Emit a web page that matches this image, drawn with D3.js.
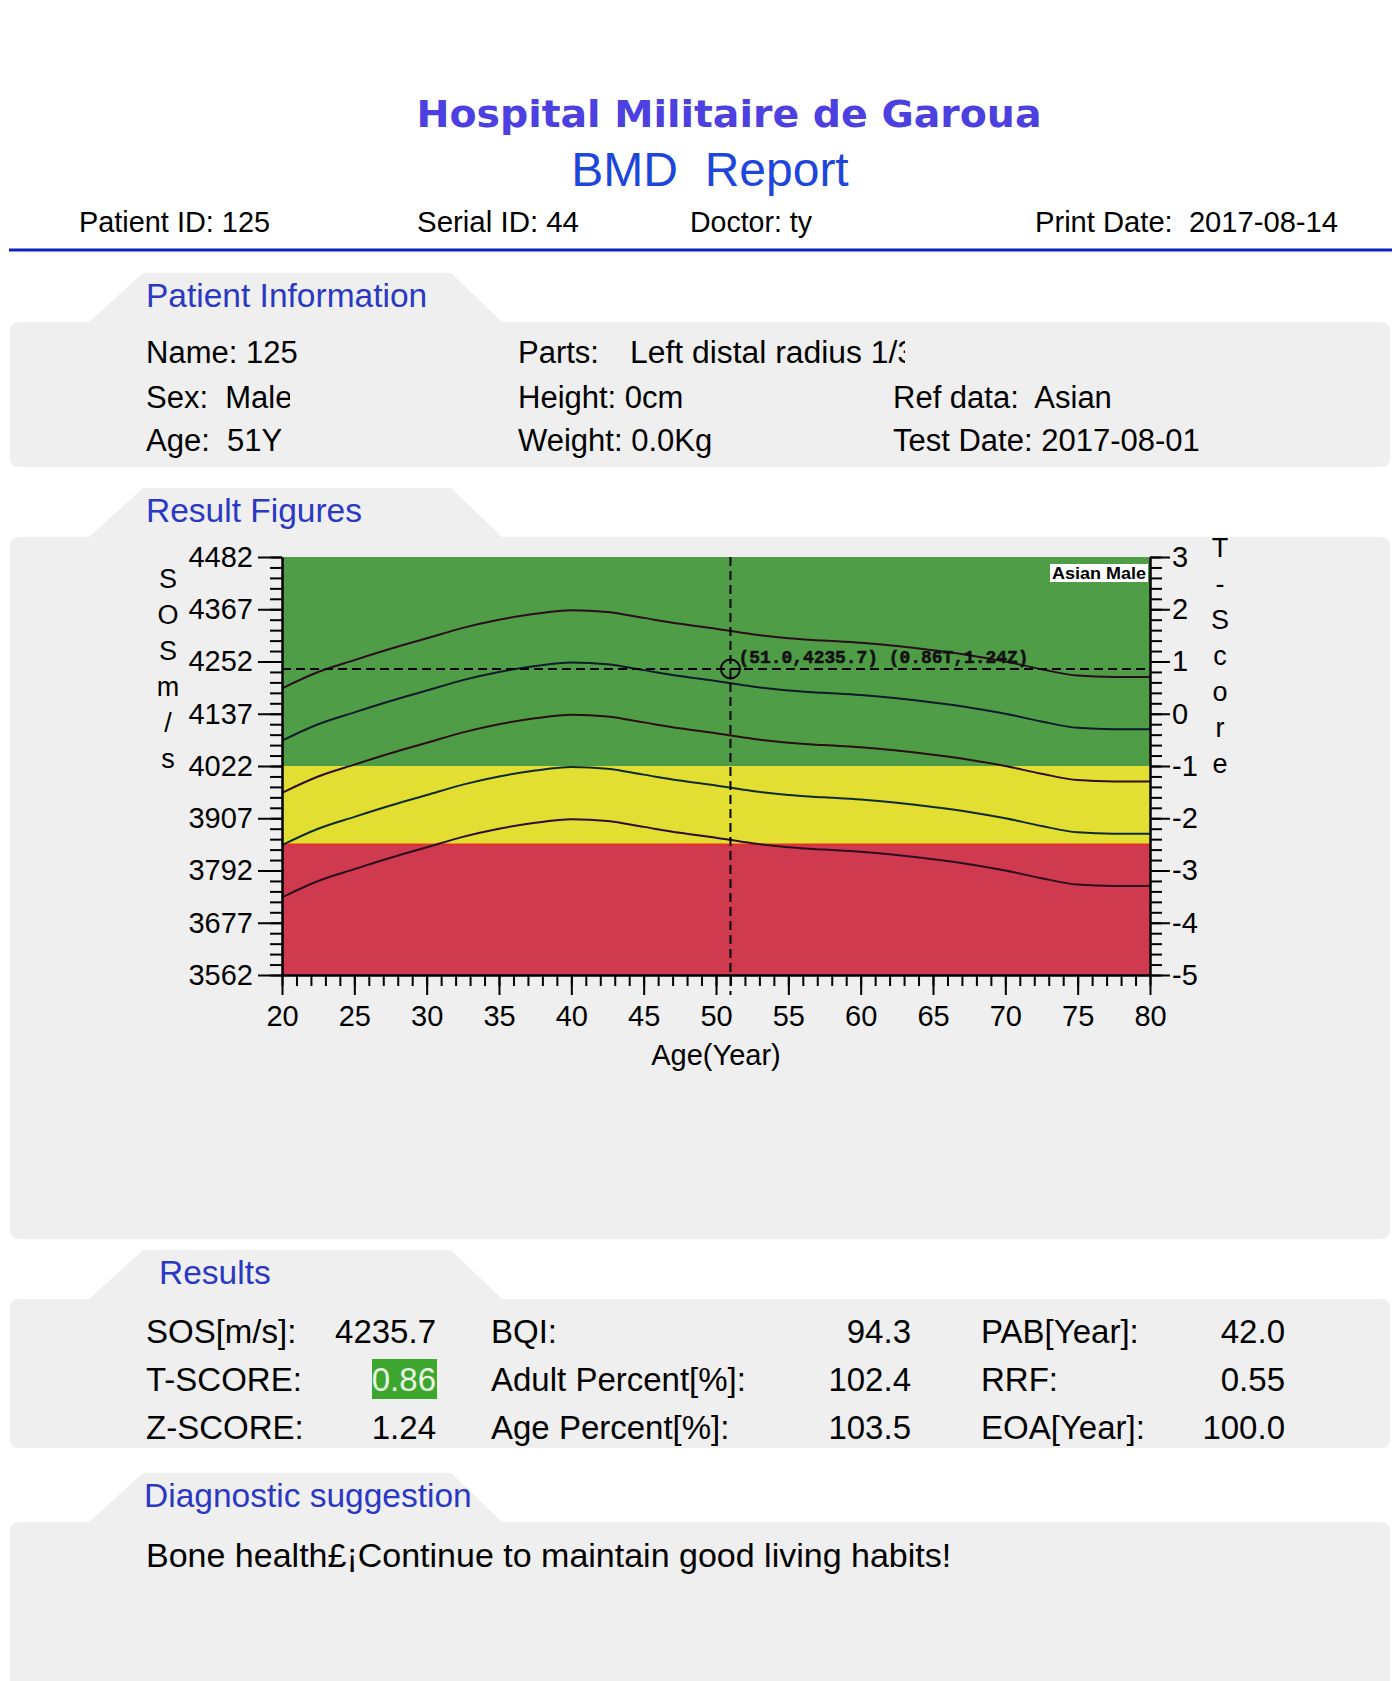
<!DOCTYPE html>
<html><head><meta charset="utf-8">
<script src="https://cdn.jsdelivr.net/npm/d3@7"></script>
<style>body{margin:0;background:#fff}svg{display:block}text{white-space:pre}</style>
</head><body>
<svg id="c" width="1400" height="1681"></svg>
<script>
// ---------------- DATA ----------------
const ages = [20,22.5,25,27.5,30,32.5,35,37.5,40,42.5,45,47.5,50,52.5,55,57.5,60,62.5,65,67.5,70,72.5,75,77.5,80];
const sosPlus2SD  = [4193,4229,4255,4280,4303,4326,4344,4357,4365,4361,4348,4335,4324,4312,4303,4298,4293,4286,4277,4266,4252,4235,4221,4218,4218];
const sosPlus1SD  = [4078,4114,4140,4165,4188,4211,4229,4242,4250,4246,4233,4220,4209,4197,4188,4183,4178,4171,4162,4151,4137,4120,4106,4103,4103];
const sosMean     = [3963,3999,4025,4050,4073,4096,4114,4127,4135,4131,4118,4105,4094,4082,4073,4068,4063,4056,4047,4036,4022,4005,3991,3988,3988];
const sosMinus1SD = [3848,3884,3910,3935,3958,3981,3999,4012,4020,4016,4003,3990,3979,3967,3958,3953,3948,3941,3932,3921,3907,3890,3876,3873,3873];
const sosMinus2SD = [3733,3769,3795,3820,3843,3866,3884,3897,3905,3901,3888,3875,3864,3852,3843,3838,3833,3826,3817,3806,3792,3775,3761,3758,3758];
const curveNames = ["+2SD","+1SD","Mean","-1SD","-2SD"];

const sosTicks = [4482,4367,4252,4137,4022,3907,3792,3677,3562];
const tTicks = [3,2,1,0,-1,-2,-3,-4,-5];
const ageTicks = [20,25,30,35,40,45,50,55,60,65,70,75,80];
const zoneNames = ["Normal","Osteopenia","Osteoporosis"];
const zoneTop = [3,-1,-2.5];
const zoneBottom = [-1,-2.5,-5];

const measAge = 51.0, measSOS = 4235.7, measT = 0.86, measZ = 1.24;
const refLabel = "Asian Male";

const hospital = "Hospital Militaire de Garoua";
const reportTitle = "BMD  Report";
const headerTexts = ["Patient ID: 125","Serial ID: 44","Doctor: ty","Print Date:  2017-08-14"];
const sectionTitles = ["Patient Information","Result Figures","Results","Diagnostic suggestion"];
const infoCol1 = ["Name: 125","Sex:  Male","Age:  51Y"];
const infoCol2Labels = ["Parts:","Height: 0cm","Weight: 0.0Kg"];
const partsValue = "Left distal radius 1/3";
const infoCol3 = ["Ref data:  Asian","Test Date: 2017-08-01"];
const resLabels1 = ["SOS[m/s]:","T-SCORE:","Z-SCORE:"];
const resValues1 = ["4235.7","0.86","1.24"];
const resLabels2 = ["BQI:","Adult Percent[%]:","Age Percent[%]:"];
const resValues2 = ["94.3","102.4","103.5"];
const resLabels3 = ["PAB[Year]:","RRF:","EOA[Year]:"];
const resValues3 = ["42.0","0.55","100.0"];
const suggestion = "Bone health\u00a3\u00a1Continue to maintain good living habits!";
const leftAxisLetters = ["S","O","S","m","/","s"];
const rightAxisLetters = ["T","-","S","c","o","r","e"];
const xAxisTitle = "Age(Year)";

// ---------------- DRAW ----------------
const FONT = "'Liberation Sans', Arial, Helvetica, sans-serif";
const svg = d3.select("#c");
const defs = svg.append("defs");
let clipN = 0;
function txt(parent, s, x, y, o = {}) {
  const t = parent.append("text").attr("x", x).attr("y", y).text(s)
    .attr("font-family", o.family || FONT).attr("font-size", o.size || 31)
    .attr("fill", o.fill || "#000").attr("text-anchor", o.anchor || "start");
  if (o.weight) t.attr("font-weight", o.weight);
  if (o.stroke) t.attr("stroke", o.stroke).attr("stroke-width", o.sw || 0.5);
  if (o.w) t.attr("textLength", o.w).attr("lengthAdjust", "spacingAndGlyphs");
  if (o.clip) {
    const id = "clp" + (clipN++);
    defs.append("clipPath").attr("id", id).attr("clipPathUnits", "userSpaceOnUse").append("rect")
      .attr("x", 0).attr("y", 0).attr("width", o.clip).attr("height", 1681);
    t.attr("clip-path", `url(#${id})`);
  }
  return t;
}

// Title
txt(svg, hospital, 729, 127, {size: 38, weight: "bold", family: "'DejaVu Sans', Verdana, sans-serif", fill: "#4c40e0", anchor: "middle", w: 625});
txt(svg, reportTitle, 710, 186, {size: 48, fill: "#1d46dc", anchor: "middle"});

// header row
const hdrX = [79, 417, 690, 1035];
const hdrW = [191, 162, 122, 303];
const hdrClip = [270, null, null, 1338];
headerTexts.forEach((s, i) => txt(svg, s, hdrX[i], 232, {size: 29, w: hdrW[i], clip: hdrClip[i]}));
svg.append("rect").attr("x", 9).attr("y", 248.5).attr("width", 1383).attr("height", 3).attr("fill", "#0a20c8");

// sections
const secTop = [273, 488, 1250, 1473];
const secBottom = [467, 1239, 1448, 1720];
const secLabelX = [146, 146, 159, 144];
secTop.forEach((top, i) => {
  const pb = top + 49;
  svg.append("path").attr("d", `M88,${pb + 1} L143,${top} L451,${top} L503,${pb + 1} Z`).attr("fill", "#efefef");
  svg.append("rect").attr("x", 10).attr("y", pb).attr("width", 1380).attr("height", secBottom[i] - pb)
    .attr("rx", 8).attr("fill", "#efefef");
  txt(svg, sectionTitles[i], secLabelX[i], top + 34, {size: 33.5, fill: "#2a38c4"});
});

// Patient info
const rowY = [363, 408, 451];
infoCol1.forEach((s, i) => txt(svg, s, 146, rowY[i], {size: 31, clip: i === 1 ? 290 : null}));
infoCol2Labels.forEach((s, i) => txt(svg, s, 518, rowY[i], {size: 31}));
txt(svg, partsValue, 630, rowY[0], {size: 31, w: 285, clip: 905});
infoCol3.forEach((s, i) => txt(svg, s, 893, rowY[i + 1], {size: 31}));

// Results
const resY = [1343, 1391, 1439];
svg.append("rect").attr("x", 372).attr("y", 1359).attr("width", 65).attr("height", 40).attr("fill", "#3ca62e");
resLabels1.forEach((s, i) => txt(svg, s, 146, resY[i], {size: 33}));
resValues1.forEach((s, i) => txt(svg, s, 436, resY[i], {size: 33, anchor: "end", fill: i === 1 ? "#eaf7e4" : "#000"}));
resLabels2.forEach((s, i) => txt(svg, s, 491, resY[i], {size: 33}));
resValues2.forEach((s, i) => txt(svg, s, 911, resY[i], {size: 33, anchor: "end"}));
resLabels3.forEach((s, i) => txt(svg, s, 981, resY[i], {size: 33}));
resValues3.forEach((s, i) => txt(svg, s, 1285, resY[i], {size: 33, anchor: "end"}));

// suggestion
txt(svg, suggestion, 146, 1567, {size: 34});

// ---------------- CHART ----------------
const x = d3.scaleLinear().domain([20, 80]).range([282, 1150]);
const yS = d3.scaleLinear().domain([3562, 4482]).range([975, 557]);
const yT = d3.scaleLinear().domain([-5, 3]).range([975, 557]);
const plot = svg.append("g");

const zoneColors = ["#4f9e47", "#e2df32", "#cf3a4e"];
zoneNames.forEach((n, i) => {
  plot.append("rect").attr("x", x(20)).attr("width", x(80) - x(20))
    .attr("y", yT(zoneTop[i])).attr("height", yT(zoneBottom[i]) - yT(zoneTop[i]))
    .attr("fill", zoneColors[i]);
});
plot.append("line").attr("x1", x(20)).attr("x2", x(80)).attr("y1", yT(-2.5)).attr("y2", yT(-2.5))
  .attr("stroke", "#e6302c").attr("stroke-width", 2);

const curves = [sosPlus2SD, sosPlus1SD, sosMean, sosMinus1SD, sosMinus2SD];
const curveColors = ["#2b0e1c", "#0e1b2b", "#2b0e0e", "#0e2b1a", "#2b0e22"];
const line = d3.line().x((d, i) => x(ages[i])).y(d => yS(d)).curve(d3.curveMonotoneX);
curves.forEach((c, k) => plot.append("path").attr("d", line(c)).attr("fill", "none")
  .attr("stroke", curveColors[k]).attr("stroke-width", 2));

// crosshair
plot.append("line").attr("x1", x(measAge)).attr("x2", x(measAge)).attr("y1", yS(4482)).attr("y2", yS(3562) + 20)
  .attr("stroke", "#000").attr("stroke-width", 2).attr("stroke-dasharray", "9,5");
plot.append("line").attr("x1", x(20)).attr("x2", x(80)).attr("y1", yS(measSOS)).attr("y2", yS(measSOS))
  .attr("stroke", "#000").attr("stroke-width", 2).attr("stroke-dasharray", "9,5");
plot.append("circle").attr("cx", x(measAge)).attr("cy", yS(measSOS)).attr("r", 9.5)
  .attr("fill", "none").attr("stroke", "#000").attr("stroke-width", 2);
txt(plot, `(${measAge.toFixed(1)},${measSOS.toFixed(1)}) (${measT.toFixed(2)}T,${measZ.toFixed(2)}Z)`,
  x(measAge) + 8, yS(measSOS) - 6, {size: 19, weight: "bold", family: "'Liberation Mono', 'DejaVu Sans Mono', monospace", fill: "#111", stroke: "#111", sw: 0.6, w: 290});

// reference label
plot.append("rect").attr("x", 1050).attr("y", 564).attr("width", 98).attr("height", 18).attr("fill", "#fff");
txt(plot, refLabel, 1052, 579, {size: 17, weight: "bold", w: 94});

// axes
function styleAxis(g, size) {
  g.attr("font-family", FONT).attr("font-size", size);
  g.selectAll("line").attr("stroke", "#000").attr("stroke-width", 2);
  g.selectAll("path").attr("stroke", "#000").attr("stroke-width", 2);
  g.selectAll("text").attr("fill", "#000");
}
const minorS = d3.range(3562, 4482.01, 23);
const minorT = d3.range(-5, 3.001, 0.2);
const minorA = d3.range(20, 80.01, 1);

styleAxis(plot.append("g").attr("transform", "translate(282,0)")
  .call(d3.axisLeft(yS).tickValues(minorS).tickSize(12).tickSizeOuter(0).tickFormat("")), 29);
styleAxis(plot.append("g").attr("transform", "translate(282,0)")
  .call(d3.axisLeft(yS).tickValues(sosTicks).tickSize(24).tickSizeOuter(0).tickPadding(5).tickFormat(d => String(d))), 29);

styleAxis(plot.append("g").attr("transform", "translate(0,975)")
  .call(d3.axisBottom(x).tickValues(minorA).tickSize(11).tickSizeOuter(0).tickFormat("")), 29);
styleAxis(plot.append("g").attr("transform", "translate(0,975)")
  .call(d3.axisBottom(x).tickValues(ageTicks).tickSize(20).tickSizeOuter(0).tickPadding(10).tickFormat(d => String(d))), 29);

styleAxis(plot.append("g").attr("transform", "translate(1150,0)")
  .call(d3.axisRight(yT).tickValues(minorT).tickSize(12).tickSizeOuter(0).tickFormat("")), 29);
styleAxis(plot.append("g").attr("transform", "translate(1150,0)")
  .call(d3.axisRight(yT).tickValues(tTicks).tickSize(20).tickSizeOuter(0).tickPadding(2).tickFormat(d => String(d))), 29);

// axis titles
txt(plot, xAxisTitle, 716, 1065, {size: 29, anchor: "middle"});
leftAxisLetters.forEach((s, i) => txt(plot, s, 168, 588 + 36 * i, {size: 27, anchor: "middle"}));
rightAxisLetters.forEach((s, i) => txt(plot, s, 1220, 557 + 36 * i, {size: 27, anchor: "middle"}));
</script>
</body></html>
